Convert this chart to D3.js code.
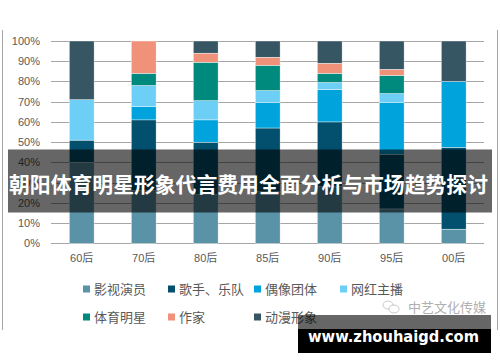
<!DOCTYPE html>
<html>
<head>
<meta charset="utf-8">
<script src="https://cdn.jsdelivr.net/npm/d3@7"></script>
<style>
  body { margin: 0; background: #fff; }
  svg { display: block; }
</style>
</head>
<body>
<svg id="chart" width="500" height="362"></svg>
<script>
const categories = ["60后", "70后", "80后", "85后", "90后", "95后", "00后"];
const seriesNames = ["影视演员", "歌手、乐队", "偶像团体", "网红主播", "体育明星", "作家", "动漫形象"];
const seriesColors = ["#5a92a8", "#02506e", "#00a3dc", "#6dcff6", "#008a7e", "#f0917a", "#375664"];

// percent shares per generation, bottom to top
const actor = [40, 26, 24, 25.5, 28, 17, 7];
const singer = [11, 35, 26, 31.5, 32, 27, 40.5];
const idol = [0, 6.5, 11, 12.5, 16, 25.5, 32.5];
const influencer = [20, 10.5, 9.5, 6, 3.5, 4.5, 0];
const athlete = [0, 6, 19, 12.5, 4.5, 9, 0];
const writer = [0, 16, 4.5, 4, 5, 3, 0];
const anime = [29, 0, 6, 8, 11, 14, 20];

const yTicks = [0, 0.1, 0.2, 0.3, 0.4, 0.5, 0.6, 0.7, 0.8, 0.9, 1];
const title = "朝阳体育明星形象代言费用全面分析与市场趋势探讨";
const brand = "中艺文化传媒";
const site = "www.zhouhaigd.com";

const seriesValues = [actor, singer, idol, influencer, athlete, writer, anime];
const rows = categories.map((c, i) => {
  const r = { cat: c };
  seriesNames.forEach((s, j) => { r[s] = seriesValues[j][i] / 100; });
  return r;
});

const svg = d3.select("#chart");
const x = d3.scaleBand().domain(categories).range([50.7, 484.7])
  .paddingInner(0.6).paddingOuter(0.3);
const y = d3.scaleLinear().domain([0, 1]).range([243.3, 41]);

// frame sides
svg.append("g")
  .selectAll("line")
  .data([2.5, 497.5])
  .join("line")
  .attr("x1", d => d).attr("x2", d => d)
  .attr("y1", 30).attr("y2", 330)
  .attr("stroke", "#a6a6a6").attr("stroke-width", 1);

// gridlines
svg.append("g")
  .selectAll("line")
  .data(yTicks)
  .join("line")
  .attr("x1", 51).attr("x2", 484)
  .attr("y1", d => Math.round(y(d)) + 0.5)
  .attr("y2", d => Math.round(y(d)) + 0.5)
  .attr("stroke", "#a6a6a6")
  .attr("stroke-width", 1);

// y labels
svg.append("g")
  .selectAll("text")
  .data(yTicks)
  .join("text")
  .attr("x", 40)
  .attr("y", d => y(d) + 4)
  .attr("text-anchor", "end")
  .style("font", "11px 'Liberation Sans', Arial, sans-serif")
  .style("fill", "#595959")
  .text(d3.format(".0%"));

// stacked bars
const stack = d3.stack().keys(seriesNames)(rows);
svg.append("g")
  .selectAll("g")
  .data(stack)
  .join("g")
  .attr("fill", (d, i) => seriesColors[i])
  .selectAll("rect")
  .data(d => d)
  .join("rect")
  .attr("x", d => x(d.data.cat))
  .attr("y", d => y(d[1]))
  .attr("width", x.bandwidth())
  .attr("height", d => Math.max(0, y(d[0]) - y(d[1])))
  .attr("stroke", "#fff")
  .attr("stroke-width", d => (d[1] - d[0]) > 0 ? 0.4 : 0);

// x labels
svg.append("g")
  .selectAll("text")
  .data(categories)
  .join("text")
  .attr("x", d => x(d) + x.bandwidth() / 2)
  .attr("y", 262)
  .attr("text-anchor", "middle")
  .style("font", "11px 'Liberation Sans', 'Noto Sans CJK SC', sans-serif")
  .style("fill", "#595959")
  .text(d => d);

// legend
const legCols = [83, 168, 254, 340];
const legend = svg.append("g")
  .selectAll("g")
  .data(seriesNames)
  .join("g")
  .attr("transform", (d, i) => `translate(${legCols[i % 4]},${i < 4 ? 289 : 317})`);
legend.append("rect")
  .attr("x", 0).attr("y", -3.5).attr("width", 7).attr("height", 7)
  .attr("fill", (d, i) => seriesColors[i]);
legend.append("text")
  .attr("x", 11).attr("y", 4.5)
  .style("font", "13px 'Noto Sans CJK SC', sans-serif")
  .style("fill", "#595959")
  .text(d => d);

// brand watermark
const bw = svg.append("g").attr("transform", "translate(383,307)");
bw.append("ellipse").attr("cx", 5).attr("cy", -2).attr("rx", 5).attr("ry", 4)
  .attr("fill", "none").attr("stroke", "#bbb").attr("stroke-width", 0.8);
bw.append("ellipse").attr("cx", 11).attr("cy", 2).attr("rx", 5).attr("ry", 4)
  .attr("fill", "#fff").attr("stroke", "#bbb").attr("stroke-width", 0.8);
bw.append("text")
  .attr("x", 25).attr("y", 5)
  .style("font", "13px 'Noto Sans CJK SC', sans-serif")
  .style("fill", "#b0b0b0")
  .text(brand);

// title band
svg.append("rect")
  .attr("x", 8).attr("y", 149.5).attr("width", 484).attr("height", 63)
  .attr("fill", "rgba(0,0,0,0.6)");
svg.append("text")
  .attr("x", 9).attr("y", 192)
  .attr("textLength", 479)
  .attr("lengthAdjust", "spacingAndGlyphs")
  .style("font", "bold 21px 'Noto Sans CJK SC', sans-serif")
  .style("fill", "#fff")
  .text(title);

// site band
svg.append("rect")
  .attr("x", 298).attr("y", 315).attr("width", 193).attr("height", 14)
  .attr("fill", "rgba(0,0,0,0.6)");
svg.append("rect")
  .attr("x", 298).attr("y", 329).attr("width", 193).attr("height", 24)
  .attr("fill", "#000");
svg.append("text")
  .attr("x", 308).attr("y", 342)
  .attr("textLength", 171)
  .attr("lengthAdjust", "spacingAndGlyphs")
  .style("font", "bold 15px 'DejaVu Sans', sans-serif")
  .style("fill", "#fff")
  .text(site);
</script>
</body>
</html>
